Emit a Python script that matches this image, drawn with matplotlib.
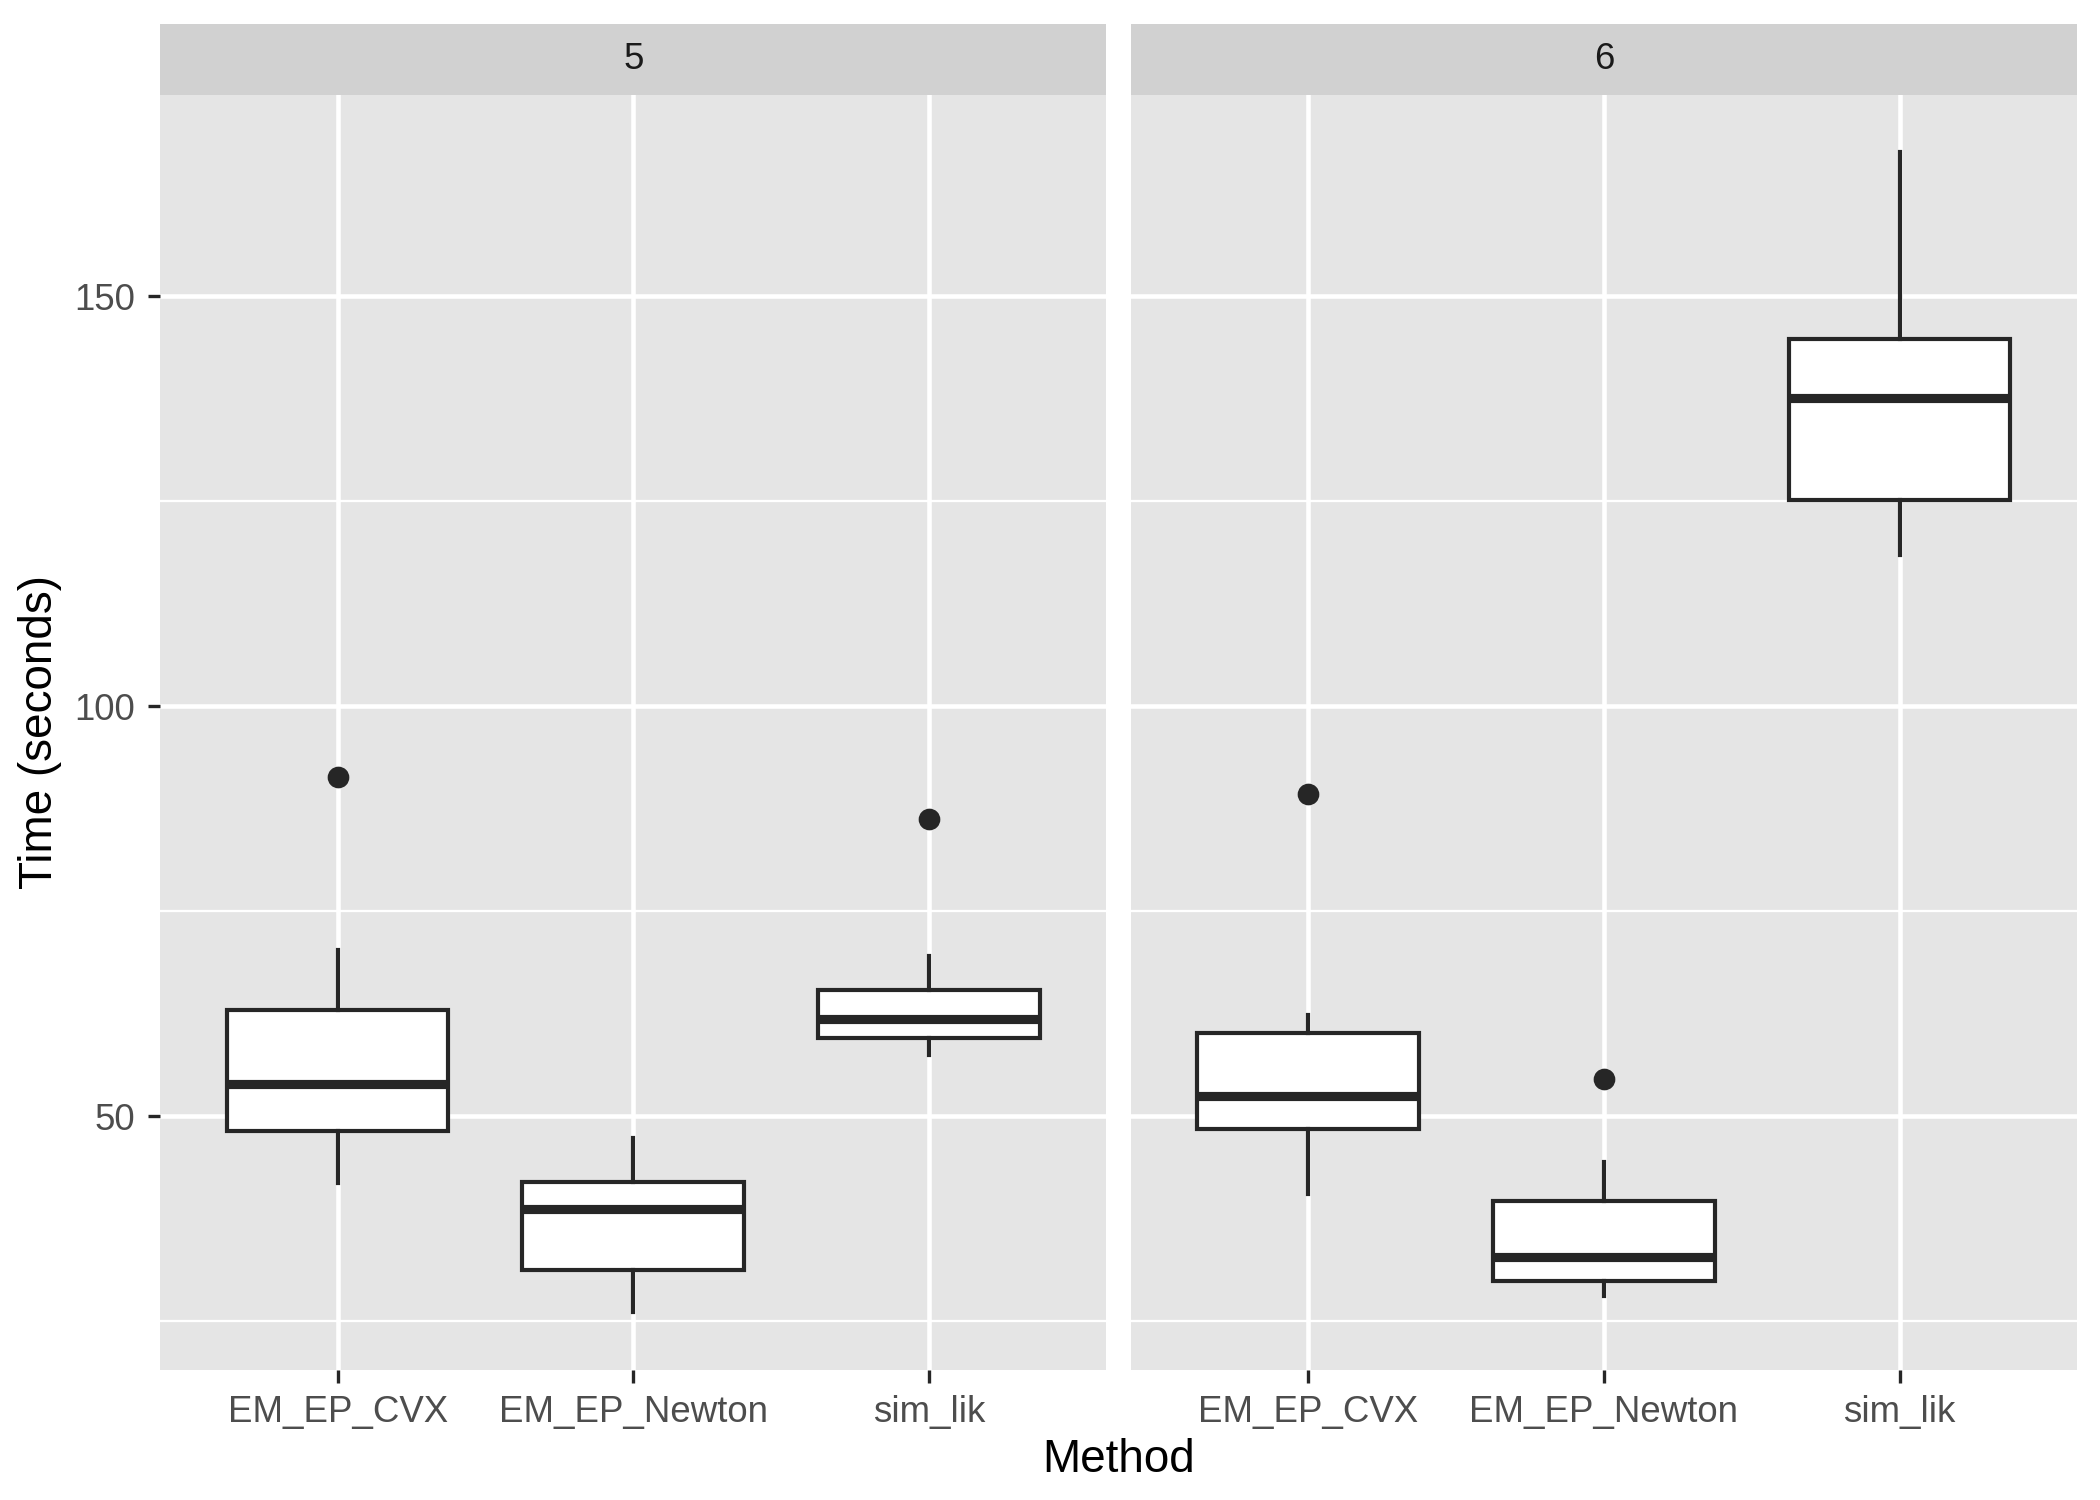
import matplotlib
matplotlib.use("Agg")
import matplotlib.pyplot as plt

plt.rcParams["font.family"] = ["Liberation Sans", "DejaVu Sans"]

# box stats (Time in seconds)
methods = ["EM_EP_CVX", "EM_EP_Newton", "sim_lik"]
facets = ["5", "6"]

whislo_5 = [41.8, 26.1, 57.5]
q1_5 = [48.2, 31.2, 59.5]
med_5 = [53.9, 38.7, 61.8]
q3_5 = [62.9, 42.0, 65.4]
whishi_5 = [70.3, 47.4, 69.5]
fliers_5 = [[91.4], [], [86.2]]

whislo_6 = [40.5, 28.1, 118.4]
q1_6 = [48.4, 29.9, 125.1]
med_6 = [52.5, 32.8, 137.6]
q3_6 = [60.1, 39.7, 144.8]
whishi_6 = [62.3, 44.4, 167.5]
fliers_6 = [[89.3], [54.6], []]

y_ticks = [50, 100, 150]
y_minor = [25, 75, 125]


def make_stats(lo, q1, med, q3, hi, fl):
    return [dict(whislo=a, q1=b, med=c, q3=d, whishi=e, fliers=f, label=m)
            for a, b, c, d, e, f, m in zip(lo, q1, med, q3, hi, fl, methods)]


stats = {
    "5": make_stats(whislo_5, q1_5, med_5, q3_5, whishi_5, fliers_5),
    "6": make_stats(whislo_6, q1_6, med_6, q3_6, whishi_6, fliers_6),
}

panel_bg = "#E5E5E5"
strip_bg = "#D1D1D1"
ink = "#262626"
tick_col = "#4D4D4D"

fig = plt.figure(figsize=(7, 5), dpi=300)
fig.patch.set_facecolor("white")

lefts = [0.0763, 0.5385]
width = 0.4505
bottom, height = 0.0865, 0.8505
strip_h = 0.0467

all_vals = whislo_5 + whislo_6 + whishi_5 + whishi_6 + sum(fliers_5 + fliers_6, [])
lo, hi = min(all_vals), max(all_vals)
pad = (hi - lo) * 0.05

for i, f in enumerate(facets):
    ax = fig.add_axes([lefts[i], bottom, width, height])
    ax.set_facecolor(panel_bg)
    for s in ax.spines.values():
        s.set_visible(False)

    for y in y_minor:
        ax.axhline(y, color="white", lw=0.55, zorder=0)
    for y in y_ticks:
        ax.axhline(y, color="white", lw=1.1, zorder=0)
    for x in range(1, len(methods) + 1):
        ax.axvline(x, color="white", lw=1.1, zorder=0)

    ax.bxp(stats[f], positions=range(1, len(methods) + 1), widths=0.75,
           patch_artist=True, showcaps=False,
           boxprops=dict(facecolor="white", edgecolor=ink, linewidth=1.0),
           medianprops=dict(color=ink, linewidth=2.2, solid_capstyle="butt"),
           whiskerprops=dict(color=ink, linewidth=1.0),
           flierprops=dict(marker="o", markerfacecolor=ink, markeredgecolor=ink,
                           markersize=4.2))

    ax.set_xlim(0.4, 3.6)
    ax.set_ylim(lo - pad, hi + pad)
    ax.set_xticks(range(1, len(methods) + 1))
    ax.set_xticklabels(methods, fontsize=8.8, color=tick_col)
    ax.set_yticks(y_ticks)
    ax.tick_params(axis="both", color=ink, length=3, width=0.8, pad=3)
    if i == 0:
        ax.set_yticklabels([str(v) for v in y_ticks], fontsize=8.8, color=tick_col)
        ax.set_ylabel("Time (seconds)", fontsize=11, color="black", labelpad=3)
    else:
        ax.tick_params(axis="y", left=False, labelleft=False)

    sax = fig.add_axes([lefts[i], bottom + height, width, strip_h])
    sax.set_facecolor(strip_bg)
    sax.set_xticks([])
    sax.set_yticks([])
    for s in sax.spines.values():
        s.set_visible(False)
    sax.text(0.5, 0.5, f, ha="center", va="center", fontsize=8.8, color="#1A1A1A",
             transform=sax.transAxes)

fig.text((lefts[0] + lefts[1] + width) / 2, 0.012, "Method", ha="center",
         va="bottom", fontsize=11)

fig.savefig("out.png", dpi=300)
